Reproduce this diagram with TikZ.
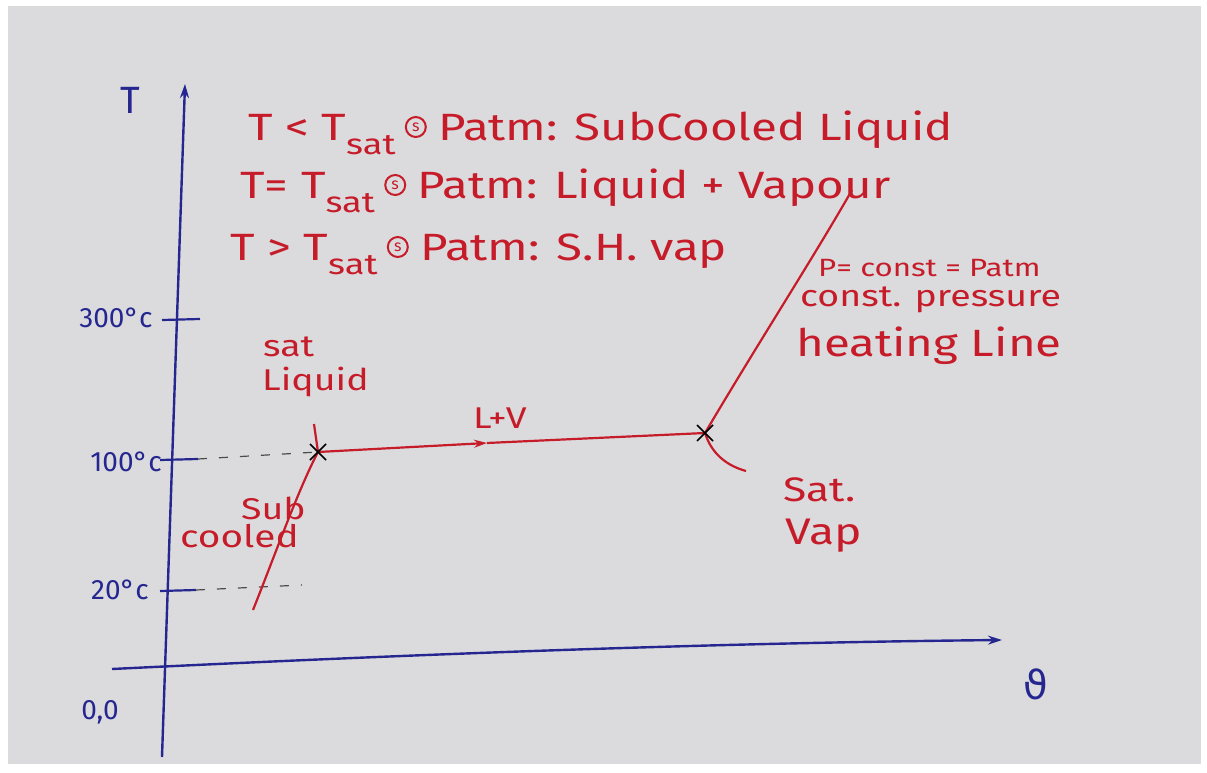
\documentclass[tikz,border=0pt]{standalone}
\usepackage{fontspec}
\setmainfont[FakeStretch=1.25]{Fira Sans}
\newfontfamily\plainfont{Fira Sans}
\newfontfamily\symfont{DejaVu Sans}
\usetikzlibrary{arrows.meta,calc}
\definecolor{paper}{RGB}{219,219,221}
\definecolor{ink}{RGB}{198,28,42}
\definecolor{pen}{RGB}{38,38,145}
\newcommand{\sub}[1]{\raisebox{-0.38em}{\fontsize{29}{31}\selectfont #1}}
\tikzset{
  axis/.style={pen, line width=2.4pt, -{Stealth[length=14pt,width=9pt]}},
  tickline/.style={pen, line width=2.2pt},
  redline/.style={ink, line width=2.2pt},
  guide/.style={black!70, line width=1.2pt, dash pattern=on 9pt off 12pt},
  cross/.style={black, line width=1.6pt},
  redtxt/.style={ink, anchor=base west, inner sep=0pt, font=\fontsize{38}{40}\selectfont},
  redsmall/.style={ink, anchor=west, inner sep=0pt, font=\fontsize{30}{32}\selectfont},
  bluetxt/.style={pen, inner sep=0pt, font=\plainfont\fontsize{28}{30}\selectfont},
  atsign/.style={inner sep=0pt, text=ink, font=\plainfont\fontsize{16}{16}\selectfont},
  atring/.style={ink, line width=2pt},
}
\begin{document}
\begin{tikzpicture}[x=1pt,y=-1pt]
\fill[white] (0,0) rectangle (1207,773);
\fill[paper] (8,6) rectangle (1201,764);
\useasboundingbox (0,0) rectangle (1207,773);
% axes
\coordinate (ybot) at (162,757);
\coordinate (ytop) at (185,84);
\coordinate (xl) at (112,669);
\coordinate (xr) at (1002,640);
\draw[axis] (ybot) -- (ytop);
\draw[axis] (xl) .. controls (400,655) and (700,643) .. (xr);
\node[bluetxt, font=\plainfont\fontsize{38}{40}\selectfont] (T) at (130,100) {T};
\node[pen, inner sep=0pt, font=\symfont\fontsize{40}{42}\selectfont] (v) at (1036,684) {ϑ};
\node[bluetxt] (origin) at (100,712) {0,0};
% ticks
\coordinate (t300a) at (162,320); \coordinate (t300b) at (200,319);
\coordinate (t100a) at (160,460); \coordinate (t100b) at (198,459);
\coordinate (t20a) at (160,591); \coordinate (t20b) at (196,590);
\draw[tickline] (t300a) -- (t300b);
\draw[tickline] (t100a) -- (t100b);
\draw[tickline] (t20a) -- (t20b);
\node[bluetxt] (l300) at (116,318) {300°c};
\node[bluetxt] (l100) at (126,462) {100°c};
\node[bluetxt] (l20) at (120,590) {20°c};
% points
\coordinate (sc) at (253,610);
\coordinate (sl) at (318,452);
\coordinate (mid) at (487,443);
\coordinate (sv) at (705,433);
\coordinate (sh) at (852,190);
\coordinate (svend) at (746,471);
\coordinate (sltick) at (314,424);
\coordinate (g20) at (302,585);
% dashed guides
\draw[guide] (t100b) -- (sl);
\draw[guide] (t20b) -- (g20);
% red curves
\draw[redline] (sc) .. controls (275,555) and (298,490) .. (sl);
\draw[redline] (sl) -- (sltick);
\draw[redline, -{Stealth[length=13pt,width=8pt]}] (sl) -- (mid);
\draw[redline] (mid) -- (sv);
\draw[redline] (sv) .. controls (760,340) and (815,255) .. (sh);
\draw[redline] (sv) .. controls (712,455) and (728,466) .. (svend);
% crosses
\draw[cross] ($(sl)+(-8,-8)$) -- ($(sl)+(8,8)$) ($(sl)+(-8,8)$) -- ($(sl)+(8,-8)$);
\draw[cross] ($(sv)+(-8,-8)$) -- ($(sv)+(8,8)$) ($(sv)+(-8,8)$) -- ($(sv)+(8,-8)$);
% labels
\node[redsmall] (satl1) at (263,347) {sat};
\node[redsmall] (satl2) at (262,382) {Liquid};
\node[redsmall] (lv) at (473,418) {L+V};
\node[redsmall] (sub1) at (241,508) {Sub};
\node[redsmall, font=\fontsize{31}{33}\selectfont] (sub2) at (180,536) {cooled};
\node[redsmall, font=\fontsize{34}{36}\selectfont] (sv1) at (783,490) {Sat.};
\node[redsmall, font=\fontsize{37}{39}\selectfont] (sv2) at (785,536) {Vap};
\node[redsmall, font=\fontsize{25}{27}\selectfont] (pc1) at (818,268) {P= const = Patm};
\node[redsmall] (pc2) at (800,300) {const. pressure};
\node[redsmall, font=\fontsize{38}{40}\selectfont] (pc3) at (796,346) {heating Line};
% header lines
\node[redtxt] (l1a) at (248,140) {T < T\sub{sat}};
\node[atsign] (l1c) at ($(l1a.base east)+(20,-13)$) {s};
\draw[atring] (l1c) circle[radius=10];
\node[redtxt] (l1b) at ($(l1a.base east)+(42,0)$) {Patm: SubCooled Liquid};
\node[redtxt] (l2a) at (240,198) {T= T\sub{sat}};
\node[atsign] (l2c) at ($(l2a.base east)+(20,-13)$) {s};
\draw[atring] (l2c) circle[radius=10];
\node[redtxt] (l2b) at ($(l2a.base east)+(42,0)$) {Patm: Liquid + Vapour};
\node[redtxt] (l3a) at (230,260) {T > T\sub{sat}};
\node[atsign] (l3c) at ($(l3a.base east)+(20,-13)$) {s};
\draw[atring] (l3c) circle[radius=10];
\node[redtxt] (l3b) at ($(l3a.base east)+(42,0)$) {Patm: S.H. vap};
\end{tikzpicture}
\end{document}
